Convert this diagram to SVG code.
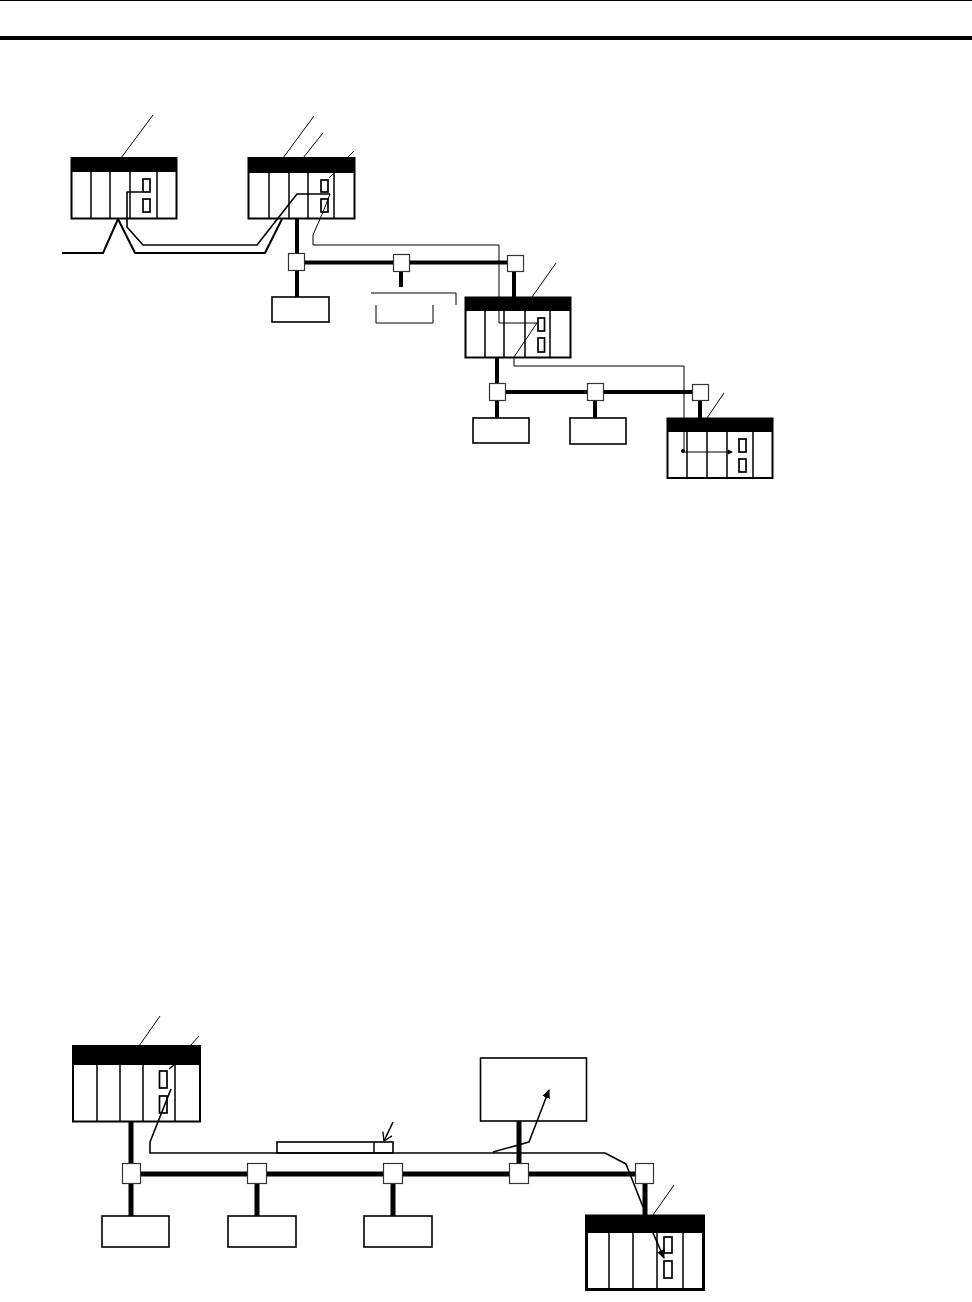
<svg xmlns="http://www.w3.org/2000/svg" width="972" height="1302" viewBox="0 0 972 1302">
<style>
.bg{fill:#fff}
.frame{fill:#fff;stroke:#000;stroke-width:2}
.band{fill:#000}
.div{stroke:#000;stroke-width:1.5;fill:none}
.slot{fill:#fff;stroke:#000;stroke-width:1.7}
.box{fill:#fff;stroke:#000;stroke-width:1.6}
.tap{fill:#fff;stroke:#333;stroke-width:1.2}
.bus{stroke:#000;stroke-width:4;fill:none}
.busb{stroke:#000;stroke-width:5;fill:none}
.thin{stroke:#000;stroke-width:1;fill:none}
.med{stroke:#000;stroke-width:1.6;fill:none;stroke-linejoin:round}
.heavy{stroke:#000;stroke-width:2;fill:none;stroke-linejoin:round}
</style>
<defs>
<marker id="head" markerWidth="10" markerHeight="10" refX="8" refY="5" orient="auto" markerUnits="userSpaceOnUse"><path d="M0 1L9 5L0 9Z" fill="#000"/></marker>
<marker id="small" markerWidth="6" markerHeight="6" refX="4" refY="3" orient="auto" markerUnits="userSpaceOnUse"><path d="M0 .5L5 3L0 5.500Z" fill="#000"/></marker>
<marker id="open" markerWidth="12" markerHeight="12" refX="10" refY="6" orient="auto" markerUnits="userSpaceOnUse"><path d="M2 1L10 6L2 11" fill="none" stroke="#000" stroke-width="1.300"/></marker>
</defs>
<rect class="bg" width="972" height="1302"/>
<g id="header"><rect x="0" y="0" width="972" height="1" fill="#000"/><rect x="0" y="36" width="972" height="4" fill="#000"/></g>

<g id="plc-1"><rect class="frame" x="71.500" y="158" width="105" height="60.500"/><rect class="band" x="71" y="158" width="106" height="14"/><path class="div" d="M91 172V219M110 172V219M130 172V219M157 172V219"/><rect class="slot" x="143" y="179" width="7" height="13"/><rect class="slot" x="143" y="199" width="7" height="13"/></g>
<g id="plc-2"><rect class="frame" x="248.500" y="158" width="106" height="60.500"/><rect class="band" x="248" y="158" width="107" height="15"/><path class="div" d="M269 173V219M289 173V219M308 173V219M334 173V219"/><rect class="slot" x="321" y="180" width="7" height="12"/><rect class="slot" x="321" y="199" width="7" height="13"/></g>
<g id="plc-3"><rect class="frame" x="465.500" y="297.500" width="105" height="60"/><rect class="band" x="465" y="297" width="106" height="14"/><path class="div" d="M485 311V358M504 311V358M525 311V358M550 311V358"/><rect class="slot" x="538" y="318" width="6.500" height="13"/><rect class="slot" x="538" y="338" width="6.500" height="14"/></g>
<g id="plc-4"><rect class="frame" x="667.500" y="418.500" width="105" height="59.500"/><rect class="band" x="667" y="418" width="106" height="14"/><path class="div" d="M687 432V478M707 432V478M727 432V478M753 432V478"/><rect class="slot" x="739" y="439" width="7" height="13"/><rect class="slot" x="739" y="459" width="7" height="13"/></g>
<g id="plc-5"><rect class="frame" x="73" y="1046" width="127" height="75.500"/><rect class="band" x="72" y="1046" width="128" height="19"/><path class="div" d="M97 1065V1122M120 1065V1122M143 1065V1122M175 1065V1122"/><rect class="slot" x="159.500" y="1071" width="7.500" height="17"/><rect class="slot" x="159.500" y="1096" width="7.500" height="17"/></g>
<g id="plc-6"><rect class="frame" x="586.500" y="1216" width="117" height="73.500" style="stroke-width:3"/><rect class="band" x="586" y="1215" width="118" height="18"/><path class="div" d="M609 1233V1290M633 1233V1290M657 1233V1290M683 1233V1290"/><rect class="slot" x="664" y="1237" width="8" height="16"/><rect class="slot" x="664" y="1261" width="8" height="17"/></g>

<g id="device-1"><rect class="box" x="272" y="297" width="57" height="25"/></g>
<g id="device-2"><rect class="box" x="473" y="418" width="56" height="25"/></g>
<g id="device-3"><rect class="box" x="570" y="418" width="56" height="26"/></g>
<g id="device-4"><rect class="box" x="102" y="1216" width="67" height="31"/></g>
<g id="device-5"><rect class="box" x="228" y="1216" width="68" height="31"/></g>
<g id="device-6"><rect class="box" x="364" y="1216" width="68" height="31"/></g>
<g id="device-7"><rect class="box" x="480.500" y="1058" width="106" height="63"/></g>
<g id="connector-bar"><rect class="box" x="277" y="1142" width="116" height="11"/><path class="div" d="M374 1142V1153"/></g>

<g id="tap-1"><rect class="tap" x="288.500" y="253.500" width="16" height="17"/></g>
<g id="tap-2"><rect class="tap" x="393.500" y="254.500" width="16" height="17"/></g>
<g id="tap-3"><rect class="tap" x="507.500" y="255.500" width="16" height="16"/></g>
<g id="tap-4"><rect class="tap" x="489.500" y="383.500" width="16" height="17"/></g>
<g id="tap-5"><rect class="tap" x="587.500" y="383.500" width="16" height="17"/></g>
<g id="tap-6"><rect class="tap" x="692.500" y="384.500" width="16" height="16"/></g>
<g id="tap-7"><rect class="tap" x="122.500" y="1163.500" width="18" height="20"/></g>
<g id="tap-8"><rect class="tap" x="247.500" y="1163.500" width="19" height="20"/></g>
<g id="tap-9"><rect class="tap" x="383.500" y="1163.500" width="19" height="20"/></g>
<g id="tap-10"><rect class="tap" x="509.500" y="1163.500" width="19" height="20"/></g>
<g id="tap-11"><rect class="tap" x="635.500" y="1163.500" width="18" height="20"/></g>

<g id="connectors">
<path class="bus" d="M297 219V253M297 271V297M305 262.500H393M410 262.500H507M401 272V287M514 272V297M497 358V383M497 401V418M506 392H587M604 392H692M595 401V418M700 401V418"/>
<path class="busb" d="M131 1122V1163M131 1184V1216M141 1174H247M267 1174H383M403 1174H509M529 1174H635M257 1184V1216M393 1184V1216M519 1121V1163M645 1184V1215"/>
<path class="heavy" d="M62 253H103L118 219L135 253H265L282 219"/>
<path class="med" d="M142 192H127V227L143 245H257L297 194H330"/>
<path class="thin" d="M330 194L323 212L313 235V245H499V323H537L514 357V366H684V451"/>
<path class="thin" d="M684 452H732" marker-end="url(#small)"/>
<circle cx="683" cy="451" r="2" fill="#000"/>
<path class="thin" d="M371 293H456V305"/>
<path class="thin" d="M376 305V323H433V305"/>
<path class="thin" d="M153 115L121 158M314 116L283 158M323 133L303 158M354 151L347 158M333 174L329 178M556 263L532 297M724 393L707 418M160 1016L139 1046M199 1036L190 1046M674 1185L653 1215"/>
<path class="med" d="M174 1065L169 1069"/>
<path class="med" d="M171 1089L150 1142V1153H605L626 1164L643 1207"/>
<path class="med" d="M653 1233L664 1258" marker-end="url(#head)"/>
<path class="med" d="M493 1152L529 1142L549 1090" marker-end="url(#head)"/>
<path class="med" d="M393 1122L384 1141" marker-end="url(#open)"/>
</g>
</svg>
